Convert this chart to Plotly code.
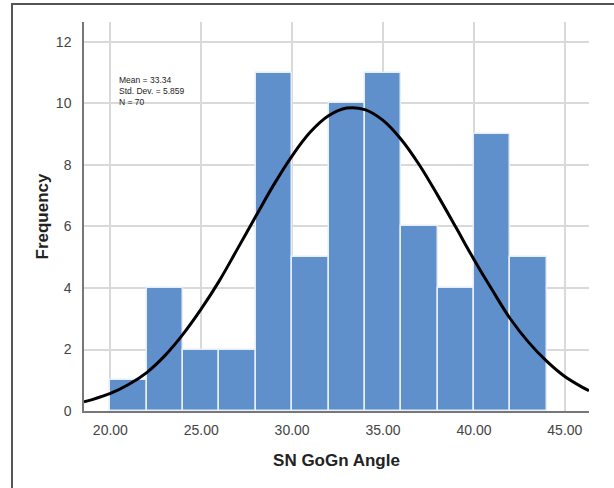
import plotly.graph_objects as go

# Data
bin_starts = [20, 22, 24, 26, 28, 30, 32, 34, 36, 38, 40, 42]
bin_width = 2
counts = [1, 4, 2, 2, 11, 5, 10, 11, 6, 4, 9, 5]
mean_val = 33.34
std_val = 5.859
n_val = 70
x_ticks = [20, 25, 30, 35, 40, 45]
x_tick_labels = ["20.00", "25.00", "30.00", "35.00", "40.00", "45.00"]
y_ticks = [0, 2, 4, 6, 8, 10, 12]

# Normal curve
curve_x = [18.55, 19, 20, 21, 22, 23, 24, 25, 26, 27, 28, 29, 30, 31, 32, 33,
           34, 35, 36, 37, 38, 39, 40, 41, 42, 43, 44, 45, 46, 46.33]
curve_y = [0.30, 0.37, 0.57, 0.86, 1.25, 1.80, 2.50, 3.32, 4.24, 5.28, 6.33,
           7.37, 8.30, 9.07, 9.60, 9.85, 9.80, 9.45, 8.83, 8.00, 7.02, 5.98,
           4.93, 3.94, 3.00, 2.24, 1.62, 1.12, 0.76, 0.66]

x_range = [18.55, 46.33]
y_range = [0, 12.65]

centers = [s + bin_width / 2 for s in bin_starts]

fig = go.Figure()
fig.add_trace(go.Bar(
    x=centers, y=counts, width=bin_width,
    marker=dict(color="#5f90cc", line=dict(color="#e6eef8", width=1.5)),
    hoverinfo="skip", showlegend=False,
))
fig.add_trace(go.Scatter(
    x=curve_x, y=curve_y, mode="lines",
    line=dict(color="black", width=3, shape="spline", smoothing=1.0),
    hoverinfo="skip", showlegend=False,
))

fig.update_layout(
    width=614, height=488,
    margin=dict(l=84, r=25, t=22, b=77),
    paper_bgcolor="white", plot_bgcolor="white",
    font=dict(family="Liberation Sans, Arial, sans-serif", color="#444"),
    bargap=0,
    xaxis=dict(
        range=x_range, tickvals=x_ticks, ticktext=x_tick_labels,
        showgrid=True, gridcolor="#d9d9d9", gridwidth=1.5,
        showline=True, linecolor="#777", linewidth=1.5,
        zeroline=False, ticks="", tickfont=dict(size=14, color="#444"),
        ticklabelstandoff=5,
        title=dict(text="<b>SN GoGn Angle</b>", font=dict(size=17, color="#222"), standoff=18),
    ),
    yaxis=dict(
        range=y_range, tickvals=y_ticks,
        showgrid=True, gridcolor="#d9d9d9", gridwidth=1.5,
        showline=True, linecolor="#777", linewidth=1.5,
        zeroline=False, ticks="", tickfont=dict(size=14, color="#444"),
        ticklabelstandoff=8,
        title=dict(text="<b>Frequency</b>", font=dict(size=17, color="#222"), standoff=3),
    ),
    annotations=[dict(
        xref="paper", yref="paper", x=0.066, y=0.868,
        xanchor="left", yanchor="top", align="left", showarrow=False,
        text="Mean = %.2f<br>Std. Dev. = %.3f<br>N = %d" % (mean_val, std_val, n_val),
        font=dict(size=8.5, color="#222", family="Liberation Sans Narrow, Liberation Sans, Arial"),
    )],
    shapes=[dict(
        type="rect", xref="paper", yref="paper",
        x0=-0.1426, x1=1.06, y0=-0.21, y1=1.0463,
        line=dict(color="#555", width=2), fillcolor="rgba(0,0,0,0)", layer="below",
    )],
)

fig.write_html("out.html")
